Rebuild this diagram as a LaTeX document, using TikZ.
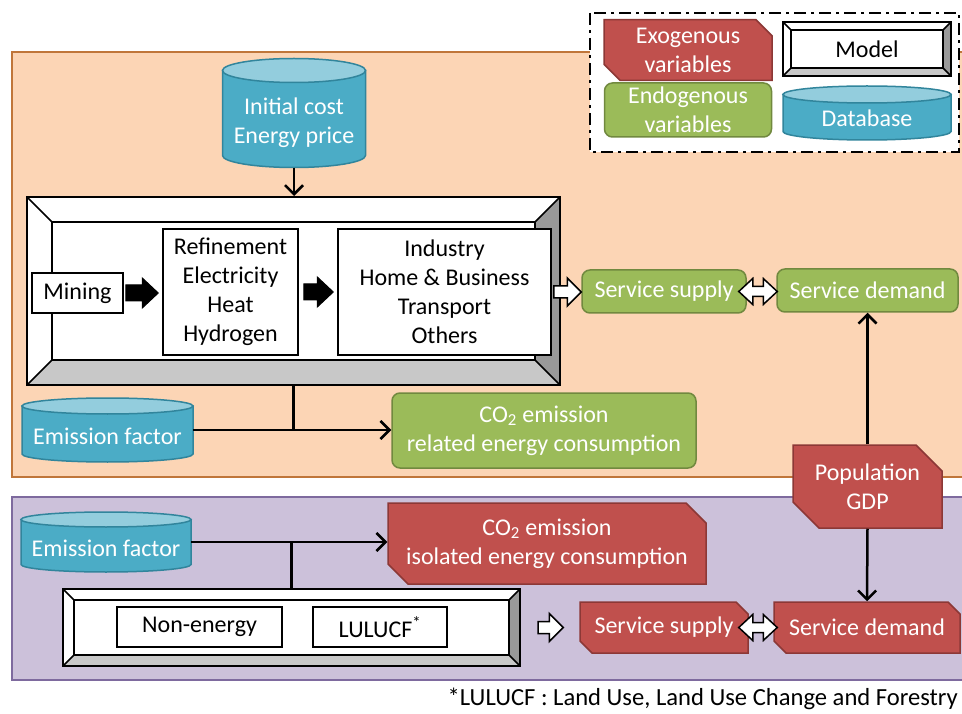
\documentclass[tikz,border=0pt]{standalone}
\usepackage{fontspec}
\setmainfont{Carlito}
\usepackage{xcolor}
\usepackage{tikz}
\usetikzlibrary{shapes.geometric, shapes.misc, arrows.meta, calc, positioning}

\definecolor{exored}{HTML}{C0504D}
\definecolor{exoline}{HTML}{8C3836}
\definecolor{endogreen}{HTML}{9BBB59}
\definecolor{endoline}{HTML}{71893F}
\definecolor{dbblue}{HTML}{4BACC6}
\definecolor{dbtop}{HTML}{93CDDD}
\definecolor{dbline}{HTML}{31859C}
\definecolor{energybg}{HTML}{FCD5B5}
\definecolor{energyline}{HTML}{C0763A}
\definecolor{otherbg}{HTML}{CCC1DA}
\definecolor{otherline}{HTML}{7E6A9E}
\definecolor{bevelbot}{HTML}{C8C8C8}
\definecolor{bevelright}{HTML}{999999}

% database drum: name, x, y, width, height, radius of the lids
\newcommand{\database}[6]{%
  \pgfmathsetmacro\dbleft{#2-#4/2}
  \pgfmathsetmacro\dbright{#2+#4/2}
  \pgfmathsetmacro\dbtop{#3-#5/2+#6}
  \pgfmathsetmacro\dbbot{#3+#5/2-#6}
  \filldraw[fill=dbblue, draw=dbline, line width=1.5pt]
    (\dbleft,\dbtop) -- (\dbleft,\dbbot)
    arc[start angle=180, end angle=360, x radius={#4/2*1pt}, y radius={#6*1pt}]
    -- (\dbright,\dbtop) -- cycle;
  \filldraw[fill=dbtop, draw=dbline, line width=1.5pt]
    (#2,\dbtop) ellipse[x radius={#4/2*1pt}, y radius={#6*1pt}];
  \node[rectangle, inner sep=0pt, minimum width=#4pt, minimum height=#5pt] (#1) at (#2,#3) {};
}

\tikzset{
  txt/.style={font=\fontsize{24}{29}\selectfont, align=center, inner sep=0pt},
  exo/.style={txt, chamfered rectangle, chamfered rectangle corners={north east,south west},
    chamfered rectangle xsep=8pt, chamfered rectangle ysep=8pt,
    fill=exored, draw=exoline, line width=1.5pt, text=white},
  endo/.style={txt, rectangle, rounded corners=8pt, fill=endogreen, draw=endoline,
    line width=1.5pt, text=white},
  dbtext/.style={txt, text=white},
  plain/.style={txt, rectangle, draw, line width=1.5pt, fill=white},
  bevel/.store in=\bevelw, bevel=12pt,
  model/.style={rectangle, draw, line width=2pt, fill=white, inner sep=0pt,
    path picture={
      \path (path picture bounding box.south west) coordinate (bsw)
            (path picture bounding box.north east) coordinate (bne);
      \coordinate (isw) at ($(bsw)+(\bevelw,\bevelw)$);
      \coordinate (ine) at ($(bne)-(\bevelw,\bevelw)$);
      \fill[bevelbot] (bsw) -- (bsw -| bne) -- (isw -| ine) -- (isw) -- cycle;
      \fill[bevelright] (bsw -| bne) -- (bne) -- (ine) -- (isw -| ine) -- cycle;
      \draw[line width=1.5pt] (bsw) -- (isw) (bne) -- (ine)
        (bsw -| bne) -- (isw -| ine) (bne -| bsw) -- (ine -| isw);
      \draw[line width=1.5pt] (isw) rectangle (ine);
    }},
  flow/.style={line width=2.5pt, -{Straight Barb[length=9pt,width=18pt]}},
  link/.style={line width=2.5pt},
  % block arrows from start to target (horizontal)
  solidarrow/.style={fill=black, draw=black, line width=1pt,
    to path={let \p1=(\tikztostart), \p2=(\tikztotarget) in
      (\x1,\y1+8pt) -- (\x2-16pt,\y1+8pt) -- (\x2-16pt,\y1+15pt) -- (\x2,\y1)
      -- (\x2-16pt,\y1-15pt) -- (\x2-16pt,\y1-8pt) -- (\x1,\y1-8pt) -- cycle}},
  hollow/.style={fill=white, draw=black, line width=1.5pt,
    to path={let \p1=(\tikztostart), \p2=(\tikztotarget) in
      (\x1,\y1+6pt) -- (\x2-14pt,\y1+6pt) -- (\x2-14pt,\y1+14pt) -- (\x2,\y1)
      -- (\x2-14pt,\y1-14pt) -- (\x2-14pt,\y1-6pt) -- (\x1,\y1-6pt) -- cycle}},
  twoway/.style={fill=white, draw=black, line width=1.5pt,
    to path={let \p1=(\tikztostart), \p2=(\tikztotarget) in
      (\x1,\y1) -- (\x1+14pt,\y1+13pt) -- (\x1+14pt,\y1+5pt) -- (\x2-14pt,\y1+5pt)
      -- (\x2-14pt,\y1+13pt) -- (\x2,\y1) -- (\x2-14pt,\y1-13pt) -- (\x2-14pt,\y1-5pt)
      -- (\x1+14pt,\y1-5pt) -- (\x1+14pt,\y1-13pt) -- cycle}}
}

\begin{document}
\begin{tikzpicture}[x=1pt, y=-1pt]
  \useasboundingbox (0,0) rectangle (962,714);

  % panels
  \filldraw[fill=energybg, draw=energyline, line width=2pt] (12,52) rectangle (975,477);
  \filldraw[fill=otherbg, draw=otherline, line width=2pt] (12,497) rectangle (975,680);

  % legend
  \filldraw[fill=white, draw=black, line width=2.5pt,
    dash pattern=on 12pt off 5pt on 3pt off 5pt] (590,13) rectangle (959,152);
  \node[exo, minimum width=168pt, minimum height=55pt] (exokey) at (688,50) {Exogenous\\variables};
  \node[model, bevel=8pt, minimum width=168pt, minimum height=54pt] (modelkey) at (867,49) {};
  \node[txt] (modeltext) at (modelkey) {Model};
  \node[endo, minimum width=167pt, minimum height=54pt] (endokey) at (688,110) {Endogenous\\variables};
  \database{dbkey}{867}{113}{168}{54}{8.5}
  \node[dbtext] (dbkeytext) at ([yshift=-5pt]dbkey.center) {Database};

  % energy part
  \database{price}{294}{113}{143}{109}{12}
  \node[dbtext] (pricetext) at ([yshift=-10pt]price.center) {Initial cost\\Energy price};
  \node[model, bevel=25pt, minimum width=533pt, minimum height=188pt] (energymodel) at (293.5,291) {};
  \node[plain, minimum width=91pt, minimum height=40pt] (mining) at (77.5,293) {Mining};
  \node[plain, minimum width=135pt, minimum height=126pt] (conv) at (230.5,292) {Refinement\\Electricity\\Heat\\Hydrogen};
  \node[plain, minimum width=213pt, minimum height=126pt] (sector) at (444.5,292) {Industry\\Home \& Business\\Transport\\Others};
  \node[endo, minimum width=164pt, minimum height=43pt] (supplya) at (664,291.5) {Service supply};
  \node[endo, minimum width=181pt, minimum height=43pt] (demanda) at (867.5,290.5) {Service demand};
  \database{efa}{107.5}{430}{171}{64}{8}
  \node[dbtext] (efatext) at ([yshift=-6pt]efa.center) {Emission factor};
  \node[endo, minimum width=304pt, minimum height=75pt] (co2a) at (544,430.5) {CO\textsubscript{2} emission\\related energy consumption};

  \node[exo, chamfered rectangle xsep=13pt, chamfered rectangle ysep=13pt,
    minimum width=149pt, minimum height=83pt] (pop) at (867.5,486.5) {Population\\GDP};

  % other part
  \database{efb}{106}{542}{170}{60}{7.5}
  \node[dbtext] (efbtext) at ([yshift=-6pt]efb.center) {Emission factor};
  \node[exo, chamfered rectangle xsep=10pt, chamfered rectangle ysep=10pt,
    minimum width=318pt, minimum height=81pt] (co2b) at (547,543.5) {CO\textsubscript{2} emission\\isolated energy consumption};
  \node[model, bevel=11pt, minimum width=457pt, minimum height=77pt] (lowmodel) at (291.5,627.5) {};
  \node[plain, minimum width=165pt, minimum height=40pt] (nonenergy) at (199.5,627) {Non-energy};
  \node[plain, minimum width=134pt, minimum height=40pt] (lulucf) at (380,627) {LULUCF\textsuperscript{*}};
  \node[exo, chamfered rectangle xsep=6pt, chamfered rectangle ysep=6pt,
    minimum width=168pt, minimum height=51pt] (supplyb) at (664,627.5) {Service supply};
  \node[exo, chamfered rectangle xsep=6pt, chamfered rectangle ysep=6pt,
    minimum width=186pt, minimum height=51pt] (demandb) at (867,627.5) {Service demand};

  \node[txt, font=\fontsize{24.6}{29}\selectfont, anchor=east] (note) at (958,699) {*LULUCF : Land Use, Land Use Change and Forestry};

  % connectors
  \draw[flow] (price.south) -- (price.south |- energymodel.north);
  \draw[solidarrow] ([xshift=2pt]mining.east) to ([xshift=-4pt]conv.west);
  \draw[solidarrow] ([xshift=5pt]conv.east) to ([xshift=-4pt]sector.west);
  \draw[hollow] ([xshift=2pt]sector.east) to (supplya.west);
  \draw[twoway] ([xshift=-8pt]supplya.east) to ([xshift=1pt]demanda.west);
  \draw[link] (energymodel.south) -- (energymodel.south |- efa.east);
  \draw[flow] (efa.east) -- (efa.east -| co2a.west);
  \draw[flow] (pop.north) -- (demanda.south);
  \draw[flow] (pop.south) -- (demandb.north);
  \draw[flow] (efb.east) -- (efb.east -| co2b.west);
  \draw[link] (lowmodel.north) -- (lowmodel.north |- efb.east);
  \draw[hollow] ([xshift=17pt]lowmodel.east) to ([xshift=-16pt]supplyb.west);
  \draw[twoway] ([xshift=-10pt]supplyb.east) to ([xshift=4pt]demandb.west);
\end{tikzpicture}
\end{document}
